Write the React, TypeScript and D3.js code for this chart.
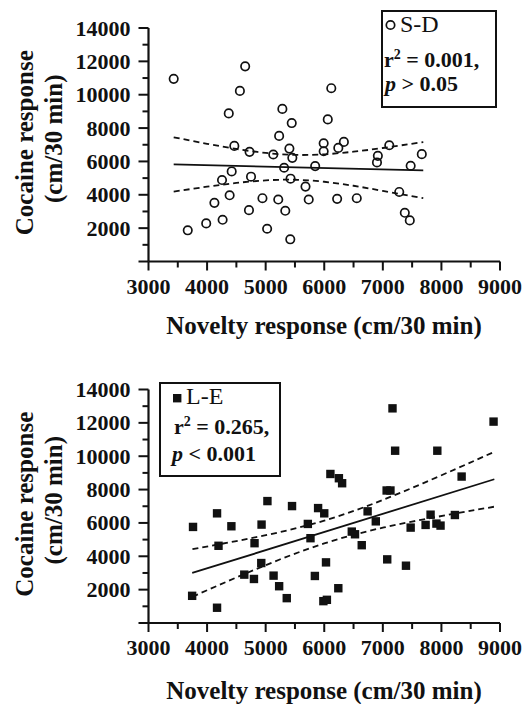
import React from "react";
import * as d3 from "d3";

// ---------- data ----------
const xTickValues = [3000, 4000, 5000, 6000, 7000, 8000, 9000];
const yTickValues = [2000, 4000, 6000, 8000, 10000, 12000, 14000];

// S-D group (open circles)
const sdX = [3430, 4650, 4560, 4370, 5285, 5445, 6120, 6060, 5230, 4465, 4725, 5130, 5405, 5455, 5990, 5990, 6240, 6335, 7110, 6915, 6900, 7665, 7475, 5845, 5315, 4420, 4750, 4255, 5425, 5680, 4385, 4125, 4945, 5215, 5735, 6220, 6555, 7280, 4715, 5335, 4265, 3985, 3670, 5025, 5420, 7375, 7460];
const sdY = [10950, 11700, 10230, 8880, 9150, 8300, 10390, 8520, 7530, 6930, 6575, 6415, 6770, 6215, 7090, 6610, 6810, 7170, 6970, 6335, 5940, 6435, 5740, 5720, 5620, 5400, 5085, 4885, 4965, 4490, 3970, 3515, 3795, 3715, 3715, 3755, 3795, 4170, 3080, 3040, 2500, 2285, 1870, 1965, 1330, 2920, 2465];
const sdFitX = [3430, 7690];
const sdFitY = [5819, 5462];
const sdBandX = [3430, 4000, 4500, 5000, 5500, 6000, 6500, 7000, 7690];
const sdUpper = [7448, 7057, 6750, 6510, 6391, 6427, 6583, 6806, 7164];
const sdLower = [4190, 4485, 4708, 4864, 4901, 4781, 4541, 4234, 3800];

// L-E group (filled squares)
const leX = [3760, 3745, 4170, 4195, 4170, 4415, 4635, 4810, 4800, 4930, 4925, 5030, 5135, 5230, 5360, 5450, 5720, 5765, 5840, 5895, 6000, 6030, 5985, 6045, 6105, 6250, 6305, 6240, 6470, 6525, 6640, 6740, 6880, 7065, 7130, 7075, 7165, 7210, 7395, 7475, 7730, 7815, 7915, 7930, 7985, 8230, 8345, 8890];
const leY = [5760, 1630, 6575, 4630, 915, 5800, 2900, 4785, 2640, 5900, 3595, 7310, 2840, 2205, 1490, 7010, 5940, 5085, 2820, 6890, 6575, 3635, 1310, 1390, 8935, 8680, 8380, 2085, 5480, 5320, 4665, 6695, 6095, 7945, 7945, 3815, 12870, 10330, 3435, 5720, 5880, 6495, 5960, 10330, 5840, 6475, 8780, 12075];
const leFitX = [3746, 8903];
const leFitY = [2999, 8619];
const leBandX = [3750, 4500, 5250, 6000, 6750, 7500, 8250, 8900];
const leUpper = [4431, 4913, 5456, 6138, 7037, 8101, 9242, 10260];
const leLower = [1575, 2729, 3820, 4772, 5509, 6079, 6572, 6972];

const xTitle = "Novelty response (cm/30 min)";
const yTitle1 = "Cocaine response";
const yTitle2 = "(cm/30 min)";

const FONT = "'Liberation Serif', 'Times New Roman', serif";

type PanelProps = {
  top: number;
  bottom: number;
  px: number[];
  py: number[];
  fitX: number[];
  fitY: number[];
  bandX: number[];
  upper: number[];
  lower: number[];
  kind: "circle" | "square";
  legend: React.ReactNode;
  titleBaseline: number;
};

function Panel(p: PanelProps) {
  const x = d3.scaleLinear().domain([3000, 9000]).range([148.5, 500]);
  const y = d3.scaleLinear().domain([0, 14000]).range([p.bottom, p.top]);
  const line = d3
    .line<[number, number]>()
    .x((d) => x(d[0]))
    .y((d) => y(d[1]));
  const curve = d3
    .line<[number, number]>()
    .x((d) => x(d[0]))
    .y((d) => y(d[1]))
    .curve(d3.curveNatural);
  const fit = line(p.fitX.map((v, i) => [v, p.fitY[i]]) as [number, number][]);
  const up = curve(p.bandX.map((v, i) => [v, p.upper[i]]) as [number, number][]);
  const lo = curve(p.bandX.map((v, i) => [v, p.lower[i]]) as [number, number][]);
  const xMinor = d3.range(3500, 9000, 1000);
  const yMajor = d3.range(0, 14001, 2000);
  const yMinor = d3.range(1000, 14000, 2000);
  const midY = (p.top + p.bottom) / 2 - 2;
  return (
    <g>
      {/* axes */}
      <line x1={x(3000)} x2={x(9000)} y1={y(0)} y2={y(0)} stroke="#111" strokeWidth={2.2} />
      <line x1={x(3000)} x2={x(3000)} y1={y(0)} y2={y(14000)} stroke="#111" strokeWidth={2.2} />
      {xTickValues.map((t) => (
        <line key={"xt" + t} x1={x(t)} x2={x(t)} y1={y(0)} y2={y(0) + 9} stroke="#111" strokeWidth={2} />
      ))}
      {xMinor.map((t) => (
        <line key={"xm" + t} x1={x(t)} x2={x(t)} y1={y(0)} y2={y(0) + 6} stroke="#111" strokeWidth={2} />
      ))}
      {yMajor.map((t) => (
        <line key={"yt" + t} x1={x(3000) - 10} x2={x(3000)} y1={y(t)} y2={y(t)} stroke="#111" strokeWidth={2} />
      ))}
      {yMinor.map((t) => (
        <line key={"ym" + t} x1={x(3000) - 6} x2={x(3000)} y1={y(t)} y2={y(t)} stroke="#111" strokeWidth={2} />
      ))}
      {xTickValues.map((t) => (
        <text key={"xl" + t} x={x(t)} y={y(0) + 32} textAnchor="middle" fontFamily={FONT} fontWeight="bold" fontSize={22} fill="#111">
          {t}
        </text>
      ))}
      {yTickValues.map((t) => (
        <text key={"yl" + t} x={x(3000) - 18} y={y(t) + 7.5} textAnchor="end" fontFamily={FONT} fontWeight="bold" fontSize={22} fill="#111">
          {t}
        </text>
      ))}
      {/* titles */}
      <text x={324} y={p.titleBaseline} textAnchor="middle" fontFamily={FONT} fontWeight="bold" fontSize={25} fill="#111">
        {xTitle}
      </text>
      <text transform={`translate(33,${midY}) rotate(-90)`} textAnchor="middle" fontFamily={FONT} fontWeight="bold" fontSize={25} fill="#111">
        {yTitle1}
      </text>
      <text transform={`translate(62,${midY - 4}) rotate(-90)`} textAnchor="middle" fontFamily={FONT} fontWeight="bold" fontSize={25} fill="#111">
        {yTitle2}
      </text>
      {/* regression */}
      <path d={fit || ""} fill="none" stroke="#111" strokeWidth={1.8} />
      <path d={up || ""} fill="none" stroke="#111" strokeWidth={1.8} strokeDasharray="6,4" />
      <path d={lo || ""} fill="none" stroke="#111" strokeWidth={1.8} strokeDasharray="6,4" />
      {/* points */}
      {p.px.map((v, i) =>
        p.kind === "circle" ? (
          <circle key={"pt" + i} cx={x(v)} cy={y(p.py[i])} r={4.2} fill="none" stroke="#111" strokeWidth={1.7} />
        ) : (
          <rect key={"pt" + i} x={x(v) - 4.2} y={y(p.py[i]) - 4.2} width={8.4} height={8.4} fill="#111" />
        )
      )}
      {p.legend}
    </g>
  );
}

export default function App() {
  const legendTop = (
    <g fontFamily={FONT} fill="#111">
      <rect x={382} y={11} width={114} height={96} fill="white" stroke="#111" strokeWidth={2} />
      <circle cx={390.5} cy={25} r={4.2} fill="none" stroke="#111" strokeWidth={1.7} />
      <text x={400} y={32} fontSize={24}>S-D</text>
      <text x={384} y={67} fontSize={22} fontWeight="bold">
        r<tspan dy={-8} fontSize={14}>2</tspan>
        <tspan dy={8}> = 0.001,</tspan>
      </text>
      <text x={385} y={91} fontSize={22} fontWeight="bold">
        <tspan fontStyle="italic">p</tspan> &gt; 0.05
      </text>
    </g>
  );
  const legendBottom = (
    <g fontFamily={FONT} fill="#111">
      <rect x={160} y={383} width={120} height={93} fill="white" stroke="#111" strokeWidth={2} />
      <rect x={173} y={394} width={8.4} height={8.4} fill="#111" />
      <text x={186} y={404} fontSize={24}>L-E</text>
      <text x={174} y={434} fontSize={22} fontWeight="bold">
        r<tspan dy={-8} fontSize={14}>2</tspan>
        <tspan dy={8}> = 0.265,</tspan>
      </text>
      <text x={172} y={461} fontSize={22} fontWeight="bold">
        <tspan fontStyle="italic">p</tspan> &lt; 0.001
      </text>
    </g>
  );
  return (
    <svg width={526} height={704} style={{ position: "absolute", left: 0, top: 0, background: "white" }}>
      <rect width={526} height={704} fill="white" />
      <Panel
        top={28}
        bottom={261.5}
        px={sdX}
        py={sdY}
        fitX={sdFitX}
        fitY={sdFitY}
        bandX={sdBandX}
        upper={sdUpper}
        lower={sdLower}
        kind="circle"
        legend={legendTop}
        titleBaseline={334}
      />
      <Panel
        top={389.5}
        bottom={623}
        px={leX}
        py={leY}
        fitX={leFitX}
        fitY={leFitY}
        bandX={leBandX}
        upper={leUpper}
        lower={leLower}
        kind="square"
        legend={legendBottom}
        titleBaseline={699}
      />
    </svg>
  );
}
